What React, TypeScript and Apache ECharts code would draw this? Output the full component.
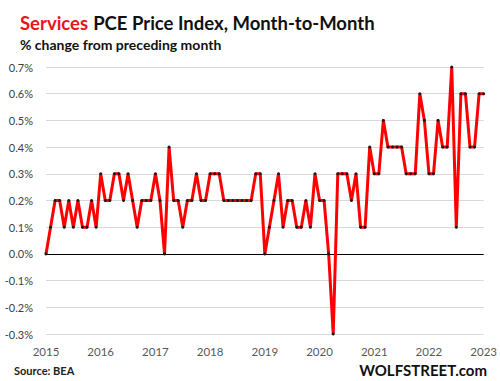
import React, { useEffect, useRef } from "react";
import * as echarts from "echarts";

const years = ["2015", "2016", "2017", "2018", "2019", "2020", "2021", "2022", "2023"];
const v2015 = [0.0, 0.1, 0.2, 0.2, 0.1, 0.2, 0.1, 0.2, 0.1, 0.1, 0.2, 0.1];
const v2016 = [0.3, 0.2, 0.2, 0.3, 0.3, 0.2, 0.3, 0.2, 0.1, 0.2, 0.2, 0.2];
const v2017 = [0.3, 0.2, 0.0, 0.4, 0.2, 0.2, 0.1, 0.2, 0.2, 0.3, 0.2, 0.2];
const v2018 = [0.3, 0.3, 0.3, 0.2, 0.2, 0.2, 0.2, 0.2, 0.2, 0.2, 0.3, 0.3];
const v2019 = [0.0, 0.1, 0.2, 0.3, 0.1, 0.2, 0.2, 0.1, 0.1, 0.2, 0.1, 0.3];
const v2020 = [0.2, 0.2, 0.0, -0.3, 0.3, 0.3, 0.3, 0.2, 0.3, 0.1, 0.1, 0.4];
const v2021 = [0.3, 0.3, 0.5, 0.4, 0.4, 0.4, 0.4, 0.3, 0.3, 0.3, 0.6, 0.5];
const v2022 = [0.3, 0.3, 0.5, 0.4, 0.4, 0.7, 0.1, 0.6, 0.6, 0.4, 0.4, 0.6];
const v2023 = [0.6];

const values = [...v2015, ...v2016, ...v2017, ...v2018, ...v2019, ...v2020, ...v2021, ...v2022, ...v2023];
const categories: string[] = values.map((_, i) => {
  const y = years[Math.floor(i / 12)];
  const m = (i % 12) + 1;
  return `${y}-${m < 10 ? "0" + m : m}`;
});

const yTicks = [-0.3, -0.2, -0.1, 0.0, 0.1, 0.2, 0.3, 0.4, 0.5, 0.6, 0.7];

export default function App() {
  const ref = useRef<HTMLDivElement>(null);
  useEffect(() => {
    if (!ref.current) return;
    const chart = echarts.init(ref.current, null, { renderer: "svg" });
    const splitColors = yTicks.map((t) => (Math.abs(t) < 1e-9 ? "#000000" : "#d9d9d9"));
    chart.setOption({
      animation: false,
      backgroundColor: "#ffffff",
      title: {
        left: 15,
        top: 8,
        text: "{r|Services} {b|PCE Price Index, Month-to-Month}",
        textStyle: {
          rich: {
            r: { color: "#e8141b", fontSize: 18.5, fontFamily: "Lato", fontWeight: "bold" },
            b: { color: "#111111", fontSize: 18.5, fontFamily: "Lato", fontWeight: "bold" },
          },
        },
        subtext: "% change from preceding month",
        itemGap: 5,
        subtextStyle: { color: "#111111", fontSize: 14, fontFamily: "Lato", fontWeight: "bold" },
      },
      graphic: [
        {
          type: "text",
          left: 14,
          top: 365,
          style: { text: "Source: BEA", fill: "#222", font: "bold 11px Lato" },
        },
        {
          type: "text",
          right: 13,
          top: 362,
          style: { text: "WOLFSTREET.com", fill: "#111", font: "bold 15px Lato" },
        },
      ],
      grid: { left: 46, right: 15, top: 67, bottom: 47, containLabel: false },
      xAxis: {
        type: "category",
        data: categories,
        boundaryGap: false,
        axisLine: { show: false },
        axisTick: { show: false },
        splitLine: { show: false },
        axisLabel: {
          interval: 11,
          color: "#595959",
          fontSize: 11.5,
          fontFamily: "Lato",
          margin: 11,
          formatter: (v: string) => v.slice(0, 4),
        },
      },
      yAxis: {
        type: "value",
        min: -0.3,
        max: 0.7,
        interval: 0.1,
        axisLine: { show: false },
        axisTick: { show: false },
        axisLabel: {
          color: "#404040",
          fontSize: 11,
          fontFamily: "Lato",
          margin: 13,
          formatter: (v: number) => (Math.abs(v) < 1e-9 ? "0.0" : v.toFixed(1)) + "%",
        },
        splitLine: { show: true, lineStyle: { color: splitColors, width: 1 } },
      },
      series: [
        {
          type: "line",
          data: values,
          lineStyle: { color: "#ff0000", width: 3 },
          symbol: "circle",
          symbolSize: 3,
          showSymbol: true,
          itemStyle: { color: "#1a1a1a", borderWidth: 0 },
          z: 3,
        },
      ],
    });
    return () => chart.dispose();
  }, []);
  return <div ref={ref} style={{ position: "fixed", left: 0, top: 0, width: 500, height: 381 }} />;
}
